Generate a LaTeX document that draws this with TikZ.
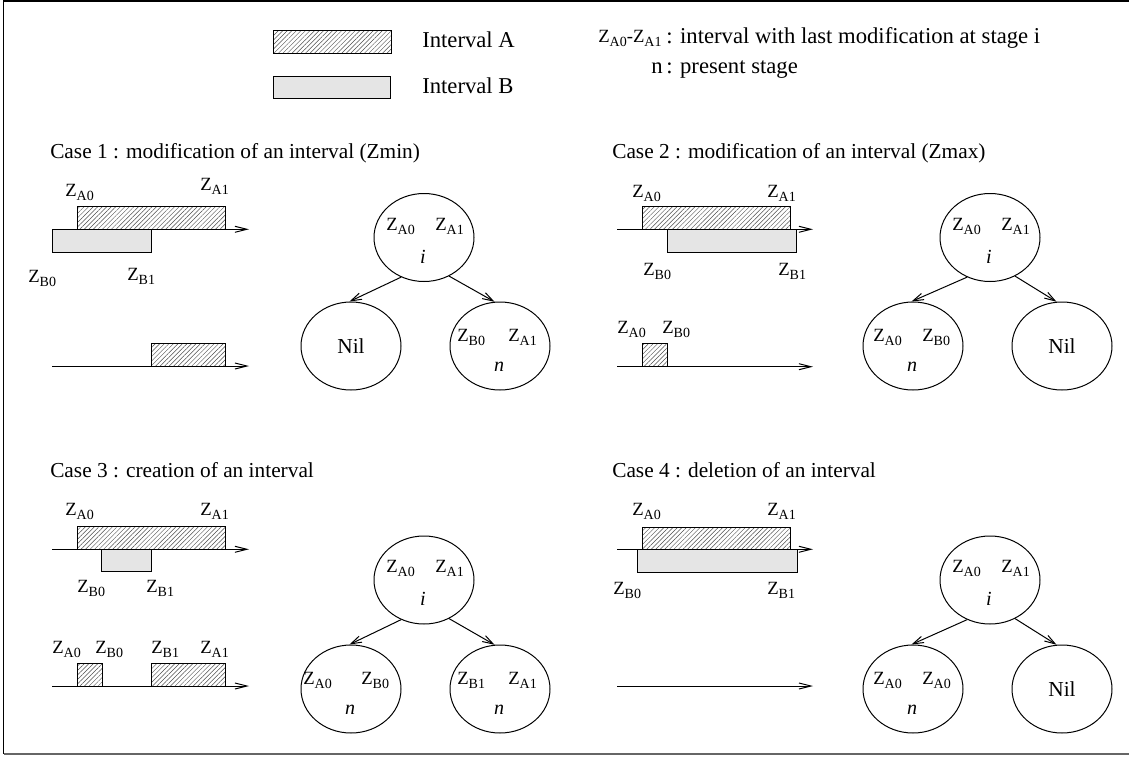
\documentclass[tikz,border=0pt]{standalone}
\usepackage{fontspec}
\setmainfont{Liberation Serif}
\usetikzlibrary{patterns.meta,arrows.meta,shapes.geometric,calc}
\newcommand{\zl}[1]{Z\raisebox{-3pt}{\fontsize{10.5}{12}\selectfont #1}}
\begin{document}
\begin{tikzpicture}[x=0.75pt,y=-0.75pt,
  big/.style={font=\fontsize{16}{19}\selectfont, inner sep=0pt},
  leg/.style={font=\fontsize{17}{20}\selectfont, inner sep=0pt, anchor=base west},
  zlab/.style={font=\fontsize{14}{16}\selectfont, inner sep=0pt, anchor=base west},
  hatchbox/.style={draw, line width=0.75pt, pattern={Lines[angle=45,distance=2.4pt,line width=0.35pt]}, pattern color=black!70},
  bbox/.style={draw, line width=0.75pt, fill=black!10},
  axis/.style={line width=0.75pt, -{Straight Barb[length=9pt,width=4.5pt]}},
  tnode/.style={draw, ellipse, line width=0.75pt, minimum width=75pt, minimum height=66pt, inner sep=0pt},
  tarrow/.style={line width=0.75pt, -{Straight Barb[length=8pt,width=5pt]}},
  stage/.style={font=\fontsize{15}{17}\selectfont\itshape, inner sep=0pt, anchor=base},
]
\useasboundingbox (0,0) rectangle (1129,757);
% frame
\draw[line width=1pt] (1129,1) -- (3.5,1) -- (3.5,754);
\draw[line width=1.3pt, black!60] (3.5,754) -- (1129,754);

% legend
\draw[hatchbox] (273,30) rectangle (391,53);
\draw[bbox] (273,76) rectangle (390,98);
\node[leg] (la) at (422,47) {Interval A};
\node[leg] (lb) at (422,93) {Interval B};
\node[zlab] (lz) at (598,42.7) {\zl{A0}-\zl{A1}};
\node[leg] (lzt) at (666,43) {: interval with last modification at stage i};
\node[leg] (ln) at (651,73) {n};
\node[leg] (lnt) at (666,73) {: present stage};

% headers
\node[big, anchor=base west] (h1) at (50,158) {Case 1 : modification of an interval (Zmin)};
\node[big, anchor=base west] (h2) at (612,158) {Case 2 : modification of an interval (Zmax)};
\node[big, anchor=base west] (h3) at (50,477) {Case 3 : creation of an interval};
\node[big, anchor=base west] (h4) at (612,477) {Case 4 : deletion of an interval};

% ---- Case 1 left
\draw[bbox] (52.3,229.3) rectangle (151.3,252);
\draw[hatchbox] (77.3,206) rectangle (225,229.3);
\draw[axis] (52.3,229.3) -- (249,229.3);
\node[zlab] (c1a0) at (65,196) {\zl{A0}};
\node[zlab] (c1a1) at (200,190) {\zl{A1}};
\node[zlab] (c1b0) at (28,282) {\zl{B0}};
\node[zlab] (c1b1) at (127,280) {\zl{B1}};
\draw[hatchbox] (151.3,343) rectangle (225,366);
\draw[axis] (52.3,366) -- (249,366);

% ---- Case 2 left
\draw[bbox] (667.7,229.3) rectangle (796.7,252);
\draw[hatchbox] (642.7,206.7) rectangle (790.7,229.3);
\draw[axis] (617,229.3) -- (813,229.3);
\node[zlab] (c2a0) at (632,197) {\zl{A0}};
\node[zlab] (c2a1) at (767,197) {\zl{A1}};
\node[zlab] (c2b0) at (643,275) {\zl{B0}};
\node[zlab] (c2b1) at (778,275) {\zl{B1}};
\draw[hatchbox] (642.7,343) rectangle (667.7,366.7);
\draw[axis] (617,366.7) -- (813,366.7);
\node[zlab] (c2la0) at (617,333) {\zl{A0}};
\node[zlab] (c2lb0) at (662,333) {\zl{B0}};

% ---- Case 3 left
\draw[bbox] (101.7,549.3) rectangle (151.3,571.7);
\draw[hatchbox] (77.3,526.7) rectangle (225,549.3);
\draw[axis] (52.3,549.3) -- (249,549.3);
\node[zlab] (c3a0) at (65,515) {\zl{A0}};
\node[zlab] (c3a1) at (200,515) {\zl{A1}};
\node[zlab] (c3b0) at (77,592) {\zl{B0}};
\node[zlab] (c3b1) at (146,592) {\zl{B1}};
\draw[hatchbox] (77.3,663.3) rectangle (102.3,686);
\draw[hatchbox] (151.3,663.3) rectangle (225,686);
\draw[axis] (52.3,686) -- (249,686);
\node[zlab] (c3la0) at (52,653) {\zl{A0}};
\node[zlab] (c3lb0) at (95,653) {\zl{B0}};
\node[zlab] (c3lb1) at (151,653) {\zl{B1}};
\node[zlab] (c3la1) at (200,653) {\zl{A1}};

% ---- Case 4 left
\draw[bbox] (637,549.3) rectangle (797,572);
\draw[hatchbox] (642.7,527) rectangle (790.7,549.3);
\draw[axis] (617,549.3) -- (813,549.3);
\node[zlab] (c4a0) at (632,515) {\zl{A0}};
\node[zlab] (c4a1) at (767,515) {\zl{A1}};
\node[zlab] (c4b0) at (613,594) {\zl{B0}};
\node[zlab] (c4b1) at (767,594) {\zl{B1}};
\draw[axis] (617,686) -- (813,686);

% ---- trees
% case 1
\node[tnode] (t1) at (424,237.5) {};
\node[tnode] (l1) at (351,346) {};
\node[tnode] (r1) at (500,346) {};
\node[zlab] at ($(t1)+(-38,-7.5)$) {\zl{A0}};
\node[zlab] at ($(t1)+(11,-7.5)$) {\zl{A1}};
\node[stage] at ($(t1)+(-1,25.5)$) {i};
\node[big] at (l1) {Nil};
\node[zlab] at ($(r1)+(-43,-5)$) {\zl{B0}};
\node[zlab] at ($(r1)+(8,-5)$) {\zl{A1}};
\node[stage] at ($(r1)+(-1,25)$) {n};
\draw[tarrow] (t1.240) -- (l1.92);
\draw[tarrow] (t1.-57) -- (r1.97);
% case 2
\node[tnode] (t2) at (990,237.5) {};
\node[tnode] (l2) at (913,346) {};
\node[tnode] (r2) at (1062,346) {};
\node[zlab] at ($(t2)+(-38,-7.5)$) {\zl{A0}};
\node[zlab] at ($(t2)+(11,-7.5)$) {\zl{A1}};
\node[stage] at ($(t2)+(-1,25.5)$) {i};
\node[zlab] at ($(l2)+(-40,-5)$) {\zl{A0}};
\node[zlab] at ($(l2)+(9,-5)$) {\zl{B0}};
\node[stage] at ($(l2)+(-1,25)$) {n};
\node[big] at (r2) {Nil};
\draw[tarrow] (t2.240) -- (l2.92);
\draw[tarrow] (t2.-57) -- (r2.97);
% case 3
\node[tnode] (t3) at (424,580) {};
\node[tnode] (l3) at (351,689) {};
\node[tnode] (r3) at (500,689) {};
\node[zlab] at ($(t3)+(-38,-7.5)$) {\zl{A0}};
\node[zlab] at ($(t3)+(11,-7.5)$) {\zl{A1}};
\node[stage] at ($(t3)+(-1,25.5)$) {i};
\node[zlab] at ($(l3)+(-48,-5)$) {\zl{A0}};
\node[zlab] at ($(l3)+(10,-5)$) {\zl{B0}};
\node[stage] at ($(l3)+(-1,25)$) {n};
\node[zlab] at ($(r3)+(-43,-5)$) {\zl{B1}};
\node[zlab] at ($(r3)+(8,-5)$) {\zl{A1}};
\node[stage] at ($(r3)+(-1,25)$) {n};
\draw[tarrow] (t3.240) -- (l3.92);
\draw[tarrow] (t3.-57) -- (r3.97);
% case 4
\node[tnode] (t4) at (990,580) {};
\node[tnode] (l4) at (913,689) {};
\node[tnode] (r4) at (1062,689) {};
\node[zlab] at ($(t4)+(-38,-7.5)$) {\zl{A0}};
\node[zlab] at ($(t4)+(11,-7.5)$) {\zl{A1}};
\node[stage] at ($(t4)+(-1,25.5)$) {i};
\node[zlab] at ($(l4)+(-40,-5)$) {\zl{A0}};
\node[zlab] at ($(l4)+(9,-5)$) {\zl{A0}};
\node[stage] at ($(l4)+(-1,25)$) {n};
\node[big] at (r4) {Nil};
\draw[tarrow] (t4.240) -- (l4.92);
\draw[tarrow] (t4.-57) -- (r4.97);
\end{tikzpicture}
\end{document}
